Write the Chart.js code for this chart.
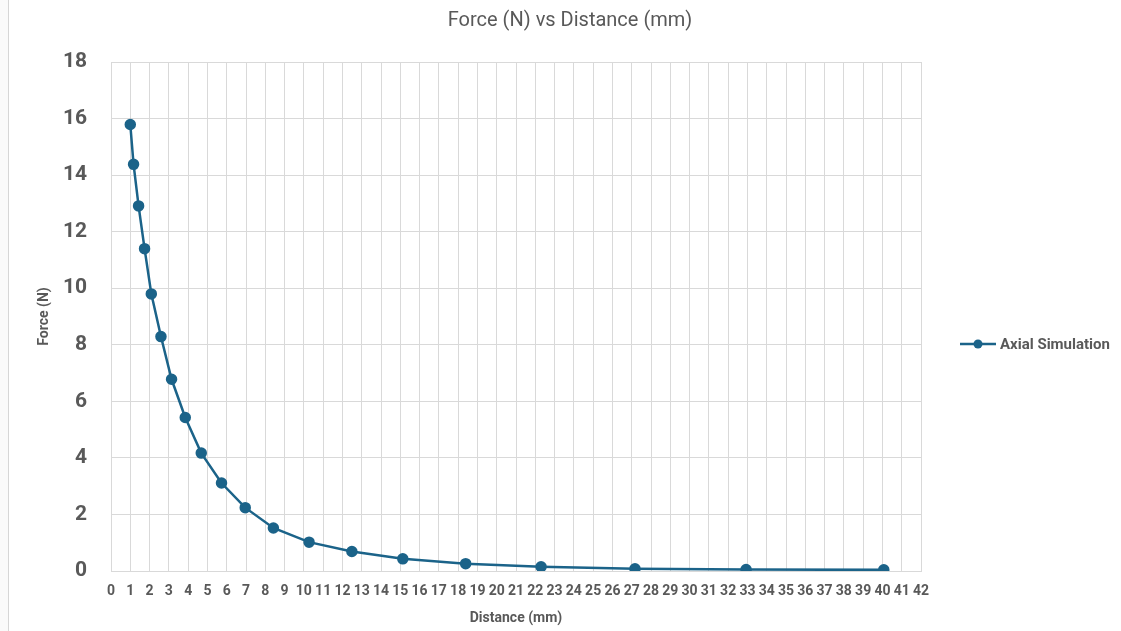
<!DOCTYPE html>
<html>
<head>
<meta charset="utf-8">
<title>Force vs Distance</title>
<script src="https://cdn.jsdelivr.net/npm/chart.js@4.4.1/dist/chart.umd.min.js"></script>
<style>
    html, body { margin: 0; padding: 0; background: #fff; }
    #wrap { position: relative; width: 1121px; height: 631px; }
    #edge { position: absolute; left: 0; top: 0; width: 8px; height: 631px; background: #fafafa; border-right: 1px solid #d6d6d6; }
    canvas { display: block; }
</style>
</head>
<body>
<div id="wrap">
    <div id="edge"></div>
    <canvas id="grafica" width="1121" height="631"></canvas>
</div>
<script>
// distancia (mm) y fuerza (N) de la simulacion axial
const distancia = [1.0, 1.17, 1.43, 1.74, 2.09, 2.59, 3.14, 3.85, 4.68, 5.73, 6.96, 8.42, 10.27, 12.49, 15.13, 18.39, 22.3, 27.17, 32.93, 40.07];
const fuerza = [15.79, 14.38, 12.91, 11.40, 9.80, 8.29, 6.78, 5.43, 4.17, 3.11, 2.24, 1.52, 1.02, 0.69, 0.43, 0.26, 0.15, 0.08, 0.05, 0.04];

const serieNombre = 'Axial Simulation';
const titulo = 'Force (N) vs Distance (mm)';
const ejeX = 'Distance (mm)';
const ejeY = 'Force (N)';

const azul = '#1b6389';
const gris = '#595959';
const rejilla = '#d9d9d9';

const puntos = distancia.map((d, i) => ({ x: d, y: fuerza[i] }));

// titulo centrado en todo el lienzo y leyenda a la derecha (linea con punto)
const tituloYLeyenda = {
    id: 'tituloYLeyenda',
    afterDraw(chart) {
        const g = chart.ctx;
        g.save();
        g.fillStyle = gris;
        g.font = '20px Roboto';
        g.textAlign = 'center';
        g.textBaseline = 'middle';
        g.fillText(titulo, 570, 21);

        const y = 344;
        g.strokeStyle = azul;
        g.lineWidth = 2.5;
        g.beginPath();
        g.moveTo(960, y);
        g.lineTo(996, y);
        g.stroke();
        g.fillStyle = azul;
        g.beginPath();
        g.arc(978, y, 4.5, 0, Math.PI * 2);
        g.fill();
        g.fillStyle = gris;
        g.font = 'bold 15px Roboto';
        g.textAlign = 'left';
        g.fillText(serieNombre, 1000, y + 1);
        g.restore();
    }
};

const ctx = document.getElementById('grafica').getContext('2d');

new Chart(ctx, {
    type: 'scatter',
    data: {
        datasets: [{
            label: serieNombre,
            data: puntos,
            showLine: true,
            borderColor: azul,
            backgroundColor: azul,
            borderWidth: 2.5,
            pointRadius: 4.5,
            pointHoverRadius: 4.5,
            pointStyle: 'circle',
            tension: 0
        }]
    },
    options: {
        responsive: false,
        animation: false,
        layout: { padding: { left: 32, right: 200, top: 62, bottom: 4 } },
        plugins: {
            title: { display: false },
            legend: { display: false },
            tooltip: { enabled: false }
        },
        scales: {
            x: {
                type: 'linear',
                min: 0,
                max: 42,
                ticks: {
                    stepSize: 1,
                    autoSkip: false,
                    maxRotation: 0,
                    color: gris,
                    font: { family: 'Roboto', size: 14, weight: 'bold' },
                    padding: 12
                },
                grid: { color: rejilla, lineWidth: 1, drawTicks: false },
                border: { color: rejilla },
                title: {
                    display: true,
                    text: ejeX,
                    color: gris,
                    font: { family: 'Roboto', size: 14, weight: 'bold' },
                    padding: { top: 4, bottom: 0 }
                },
                afterFit: (escala) => { escala.height = 56; }
            },
            y: {
                min: 0,
                max: 18,
                ticks: {
                    stepSize: 2,
                    color: gris,
                    font: { family: 'Roboto', size: 21, weight: 'bold' },
                    padding: 24
                },
                grid: { color: rejilla, lineWidth: 1, drawTicks: false },
                border: { color: rejilla },
                title: {
                    display: true,
                    text: ejeY,
                    color: gris,
                    font: { family: 'Roboto', size: 14, weight: 'bold' },
                    padding: { top: 4, bottom: 4 }
                },
                afterFit: (escala) => { escala.width = 79; }
            }
        }
    },
    plugins: [tituloYLeyenda]
});
</script>
</body>
</html>
